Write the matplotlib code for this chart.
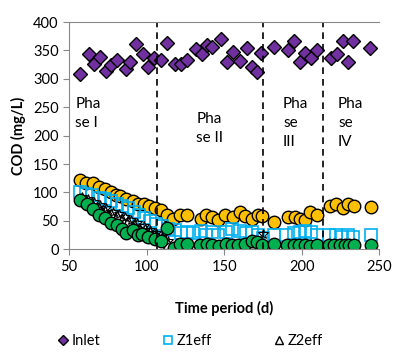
import matplotlib.pyplot as plt

plt.rcParams['font.family'] = ['Lato', 'DejaVu Sans']

# inlet COD
inlet_x = [57, 62.5, 66, 70, 74, 77, 81, 87, 89, 93, 97.5, 101, 105, 109.5, 113, 118, 122, 126,
           132, 136, 139, 142, 148, 152, 156, 160, 165, 168, 171, 174, 182, 191, 195, 199, 202,
           206, 210, 219, 223, 227, 230, 233, 244]
inlet_y = [309, 344, 327, 339, 314, 324, 333, 318, 330, 361, 343, 321, 337, 333, 364, 327, 327, 333,
           352, 344, 359, 356, 371, 329, 348, 332, 355, 321, 312, 345, 356, 350, 367, 330, 346,
           336, 350, 336, 344, 367, 330, 367, 354]

# yellow series
yel_x = [57, 61, 65.5, 69.5, 73, 77, 80.5, 83, 87, 91, 94.5, 98, 101.5, 105.5, 109.5, 113, 117,
         121.5, 126, 135, 138, 142, 146, 150.5, 155.5, 160, 163.5, 168, 172, 174.5, 182, 191,
         195.5, 199, 202, 205.5, 210, 218.5, 222.5, 227, 230, 233.5, 245]
yel_y = [122, 117, 116, 109, 106, 101, 96, 93, 88, 85, 80, 79, 76, 73, 69, 60, 53,
         61, 60, 54, 61, 57, 52, 60, 56, 66, 58, 53, 60, 59, 48, 57,
         56, 54, 52, 66, 60, 76, 79, 73, 79, 76, 74]

# green series
grn_x = [57, 61.5, 65.5, 69, 73, 77, 81, 84, 87, 91, 94.5, 97, 101, 105.5, 109.5, 113, 117.5,
         121.5, 126, 134.5, 139, 142, 146.5, 151, 155, 159, 163.5, 168, 171, 174.5, 182, 190.5,
         195, 198, 202, 205.5, 210, 217.5, 221, 225, 228, 230.5, 233.5, 244.5]
grn_y = [86, 79, 70, 61, 55, 47, 42, 35, 29, 33, 25, 26, 22, 18, 14, 38, 2,
         10, 10, 7, 10, 7, 6, 9, 7, 8, 10, 14, 12, 7, 10, 7,
         7, 7, 7, 6, 7, 7, 7, 7, 7, 8, 7, 8]

# Z1eff
z1_x = [57, 61, 65, 70, 73, 77, 81, 84, 88, 92, 95, 98, 102, 106, 110, 114, 118, 122, 126, 130,
        135, 138, 142, 146, 151, 155, 160, 164, 168, 172, 175, 182, 190, 195, 199, 202, 206, 210,
        218, 222, 226, 230, 233, 245]
z1_y = [100, 98, 95, 90, 88, 85, 80, 76, 72, 65, 60, 55, 50, 45, 40, 35, 33, 28, 30, 28,
        32, 25, 30, 25, 30, 35, 32, 28, 30, 25, 20, 25, 25, 28, 30, 32, 30, 25,
        25, 25, 22, 25, 22, 25]

# Z2eff
z2_x = [57, 61, 65, 69, 73, 77, 81, 84, 88, 92, 95, 99, 102, 106, 110, 114, 118]
z2_y = [88, 84, 80, 72, 68, 62, 58, 54, 50, 45, 38, 35, 30, 25, 18, 10, 3]

# asterisk series
ast_x = [58, 62, 66, 70, 74, 78, 82, 86, 90, 94, 98, 102, 106, 110, 114, 175]
ast_y = [92, 88, 84, 78, 72, 66, 62, 56, 52, 46, 40, 34, 28, 22, 14, 26]

phase_x = [107, 175, 214]
phase_txt = ['Pha\nse I', 'Pha\nse II', 'Pha\nse\nIII', 'Pha\nse\nIV']
phase_pos = [(54, 268), (132, 242), (188, 268), (223.5, 268)]

fig = plt.figure(figsize=(4.02, 3.56), dpi=100)
ax = fig.add_axes([0.172, 0.30, 0.771, 0.638])

ax.plot(inlet_x, inlet_y, ls='none', marker='D', ms=7, mfc='#7030A0', mec='black', mew=1.0,
        label='Inlet')
ax.plot(yel_x, yel_y, ls='none', marker='o', ms=9, mfc='#FFC000', mec='black', mew=1.0)
ax.plot(z1_x, z1_y, ls='none', marker='s', ms=8, mfc='none', mec='#00B0F0', mew=1.2,
        label='Z1eff')
ax.plot(z2_x, z2_y, ls='none', marker='^', ms=7, mfc='white', mec='black', mew=1.0,
        label='Z2eff')
ax.plot(ast_x, ast_y, ls='none', marker='*', ms=7, mfc='none', mec='black', mew=0.8)
ax.plot(grn_x, grn_y, ls='none', marker='o', ms=9, mfc='#00B050', mec='black', mew=1.0)

for px in phase_x:
    ax.axvline(px, color='black', ls=(0, (4, 3)), lw=1.2)
for t, (tx, ty) in zip(phase_txt, phase_pos):
    ax.text(tx, ty, t, fontsize=11, va='top', ha='left', linespacing=1.45)

ax.set_xlim(50, 250)
ax.set_ylim(0, 400)
ax.set_xticks(range(50, 251, 50))
ax.set_yticks(range(0, 401, 50))
ax.tick_params(labelsize=10.5, length=4, color='#888888')
ax.spines['right'].set_visible(False)
for s in ['left', 'bottom', 'top']:
    ax.spines[s].set_color('#888888')
ax.set_xlabel('Time period (d)', fontsize=10.5, fontweight='bold', labelpad=20)
ax.set_ylabel('COD (mg/L)', fontsize=10.5, fontweight='bold', labelpad=5)

leg = ax.legend(loc='center', bbox_to_anchor=(0.39, -0.405), ncol=3, frameon=False,
                fontsize=10.5, handletextpad=0.2, columnspacing=4.2, handlelength=0.8,
                markerscale=0.75, borderaxespad=0)

fig.savefig('out.png', dpi=100)
